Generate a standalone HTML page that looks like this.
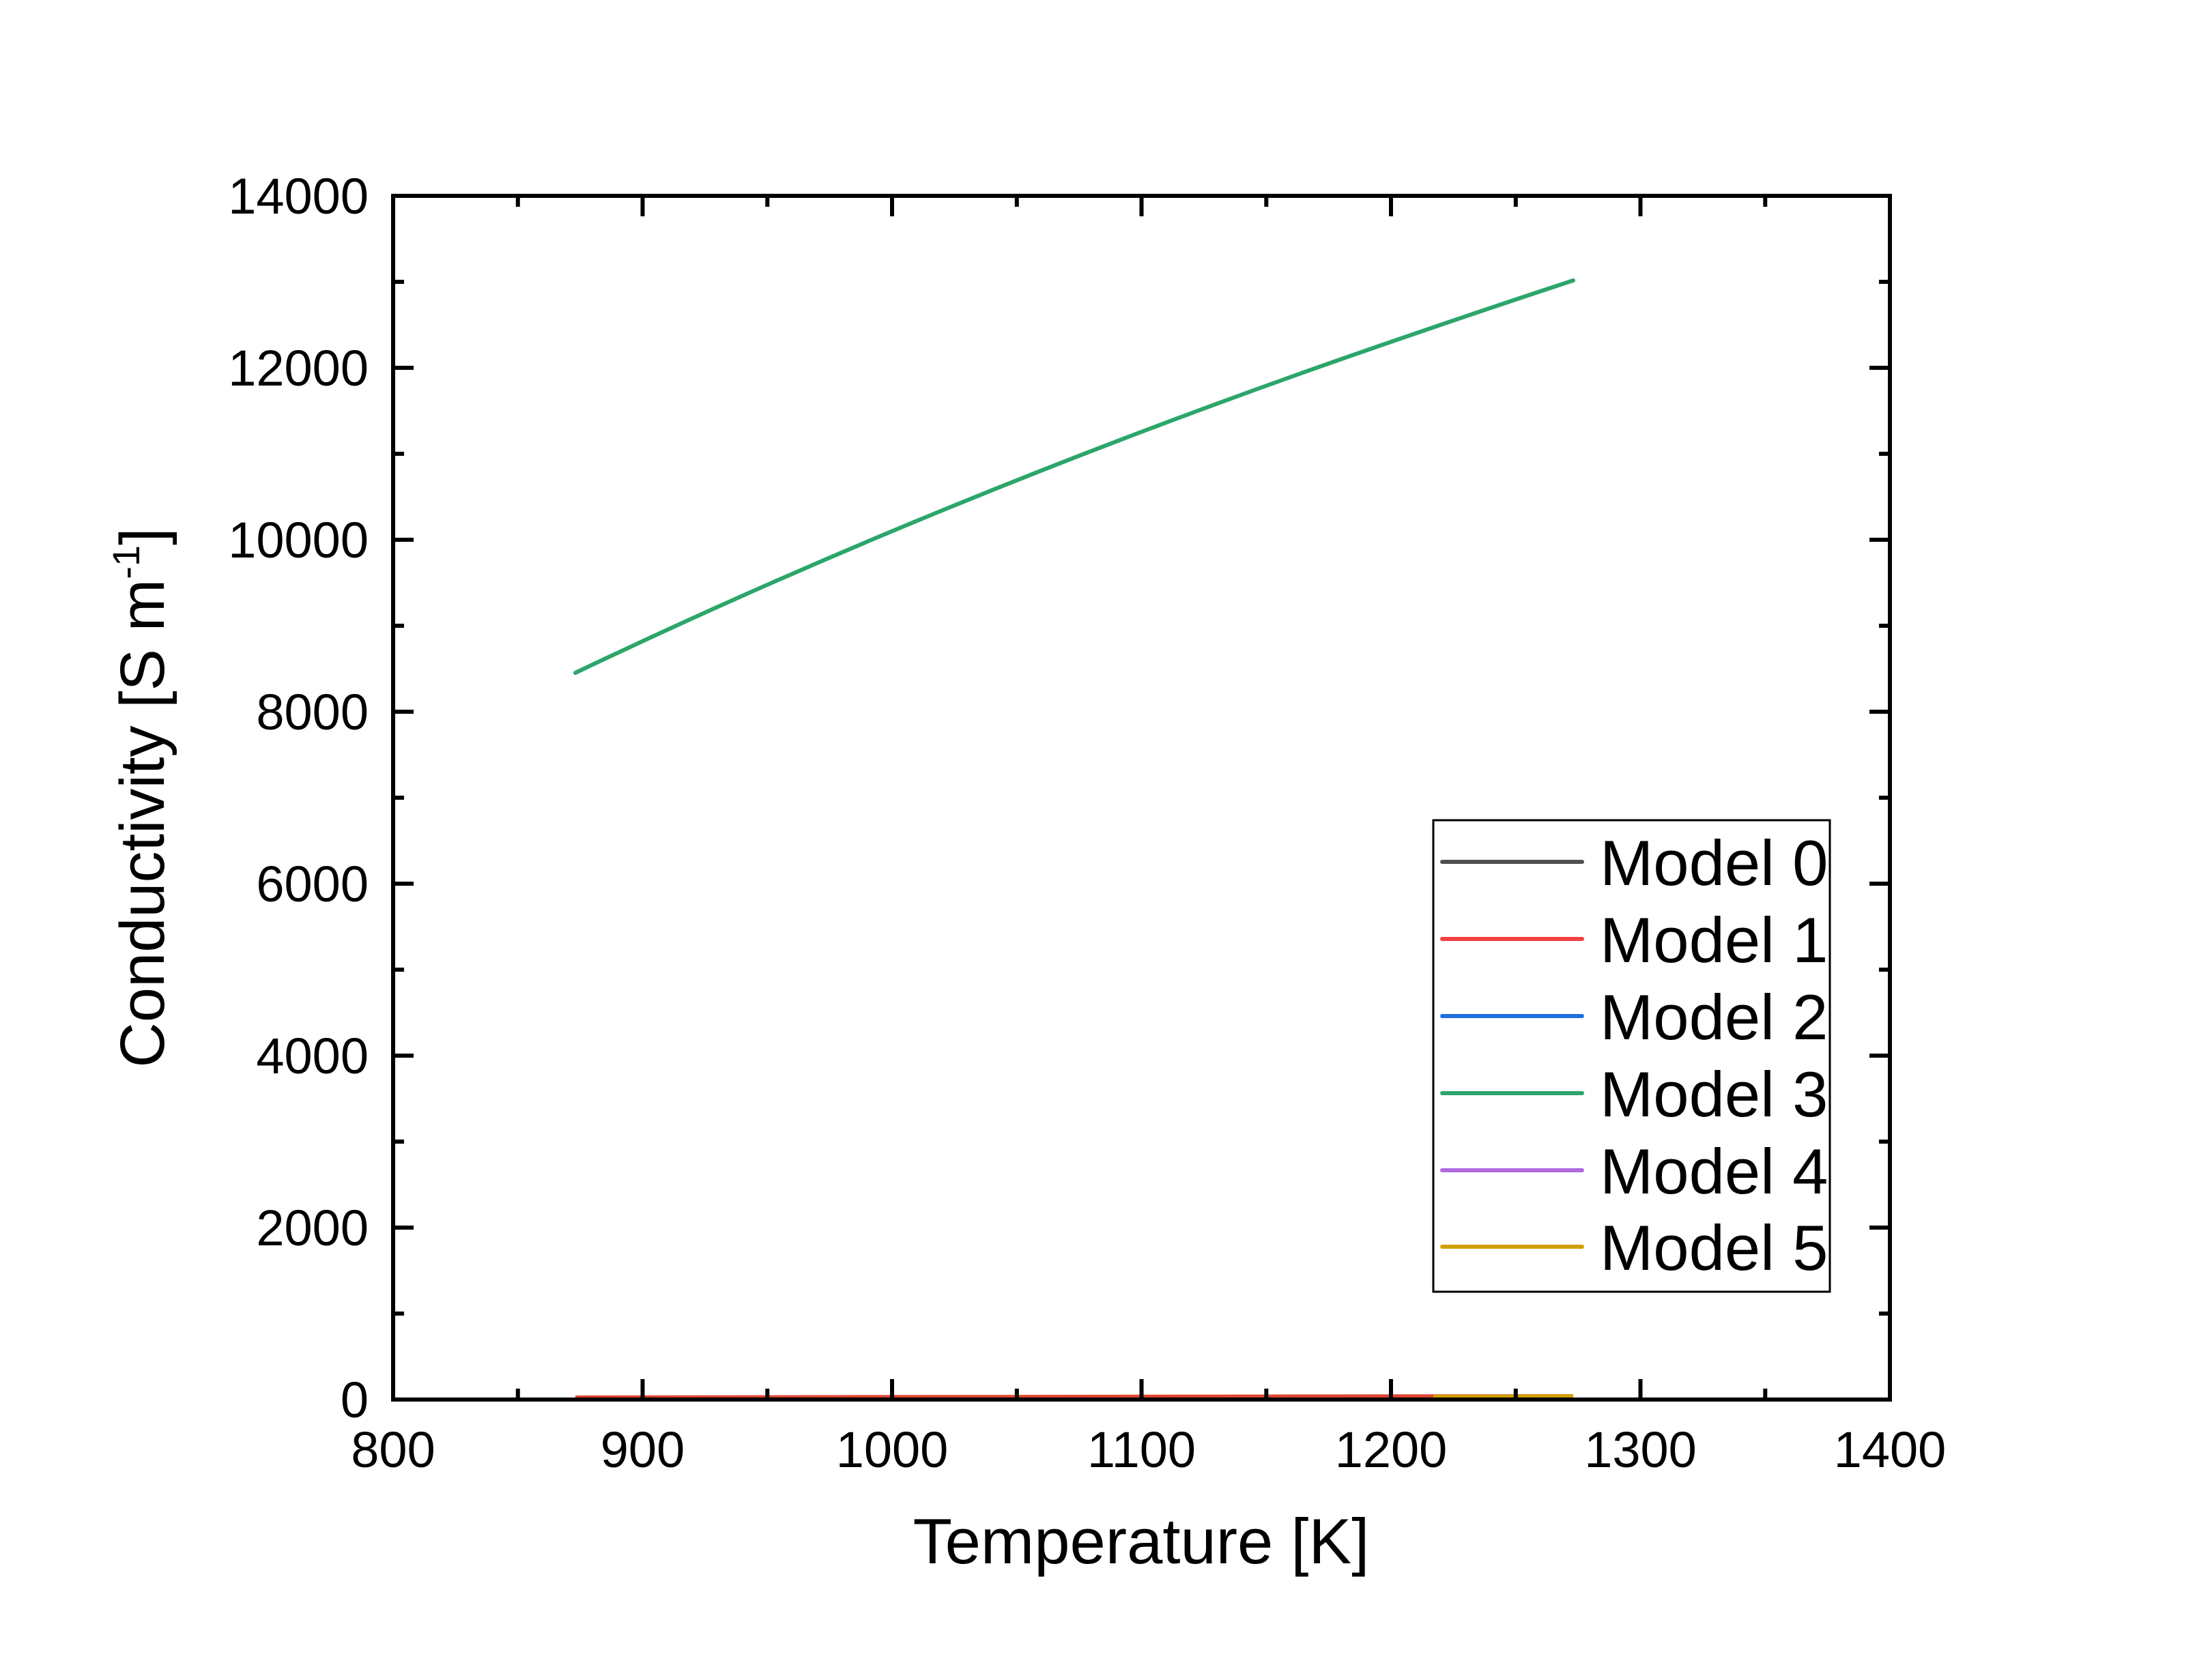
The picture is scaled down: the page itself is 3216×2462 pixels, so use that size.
<!DOCTYPE html>
<html><head><meta charset="utf-8"><style>html,body{margin:0;padding:0;background:#fff}svg{display:block}</style></head>
<body>
<svg width="3216" height="2462" viewBox="0 0 3216 2462" xmlns="http://www.w3.org/2000/svg" font-family="Liberation Sans, Arial, sans-serif">
<rect width="3216" height="2462" fill="#fff"/>
<polyline fill="none" stroke="#e04530" stroke-width="6" points="843,2048 2305,2046"/>
<polyline fill="none" stroke="#d0a000" stroke-width="6" points="2100,2047 2305,2046"/>
<path fill="none" stroke="#2ca66a" stroke-width="6" stroke-linecap="round" d="M843,986 Q1400,720 2038,501 Q2180,452 2305,411"/>
<rect x="576" y="287" width="2193" height="1764" fill="none" stroke="#000" stroke-width="6"/>
<g stroke="#000" stroke-width="6">
<path d="M576,2051v-30M941.5,2051v-30M1307,2051v-30M1672.5,2051v-30M2038,2051v-30M2403.5,2051v-30M2769,2051v-30"/>
<path d="M576,287v30M941.5,287v30M1307,287v30M1672.5,287v30M2038,287v30M2403.5,287v30M2769,287v30"/>
<path d="M758.8,2051v-16M1124.3,2051v-16M1489.8,2051v-16M1855.3,2051v-16M2220.8,2051v-16M2586.3,2051v-16"/>
<path d="M758.8,287v16M1124.3,287v16M1489.8,287v16M1855.3,287v16M2220.8,287v16M2586.3,287v16"/>
<path d="M576,2051h30M576,1799h30M576,1547h30M576,1295h30M576,1043h30M576,791h30M576,539h30M576,287h30"/>
<path d="M2769,2051h-30M2769,1799h-30M2769,1547h-30M2769,1295h-30M2769,1043h-30M2769,791h-30M2769,539h-30M2769,287h-30"/>
<path d="M576,1925h16M576,1673h16M576,1421h16M576,1169h16M576,917h16M576,665h16M576,413h16"/>
<path d="M2769,1925h-16M2769,1673h-16M2769,1421h-16M2769,1169h-16M2769,917h-16M2769,665h-16M2769,413h-16"/>
</g>
<g font-size="74" fill="#000" text-anchor="middle">
<text x="576" y="2150">800</text><text x="941.5" y="2150">900</text><text x="1307" y="2150">1000</text><text x="1672.5" y="2150">1100</text><text x="2038" y="2150">1200</text><text x="2403.5" y="2150">1300</text><text x="2769" y="2150">1400</text>
</g>
<g font-size="74" fill="#000" text-anchor="end">
<text x="540" y="2077">0</text><text x="540" y="1825">2000</text><text x="540" y="1573">4000</text><text x="540" y="1321">6000</text><text x="540" y="1069">8000</text><text x="540" y="817">10000</text><text x="540" y="565">12000</text><text x="540" y="313">14000</text>
</g>
<text x="1672" y="2291" font-size="94" text-anchor="middle">Temperature [K]</text>
<text transform="translate(240,1169) rotate(-90)" font-size="92" text-anchor="middle">Conductivity [S m<tspan dy="-36" font-size="56">-1</tspan><tspan dy="36">]</tspan></text>
<rect x="2100" y="1202" width="581" height="691" fill="#fff" stroke="#000" stroke-width="3"/>
<g stroke-width="6" stroke-linecap="round">
<line x1="2113" x2="2318" y1="1263" y2="1263" stroke="#505050"/>
<line x1="2113" x2="2318" y1="1376" y2="1376" stroke="#f04040"/>
<line x1="2113" x2="2318" y1="1489" y2="1489" stroke="#1f6fe0"/>
<line x1="2113" x2="2318" y1="1602" y2="1602" stroke="#2ca66a"/>
<line x1="2113" x2="2318" y1="1715" y2="1715" stroke="#b06ae0"/>
<line x1="2113" x2="2318" y1="1827" y2="1827" stroke="#d0a000"/>
</g>
<g font-size="94" fill="#000">
<text x="2344" y="1297">Model 0</text>
<text x="2344" y="1410">Model 1</text>
<text x="2344" y="1523">Model 2</text>
<text x="2344" y="1636">Model 3</text>
<text x="2344" y="1749">Model 4</text>
<text x="2344" y="1861">Model 5</text>
</g>
</svg>
</body></html>
